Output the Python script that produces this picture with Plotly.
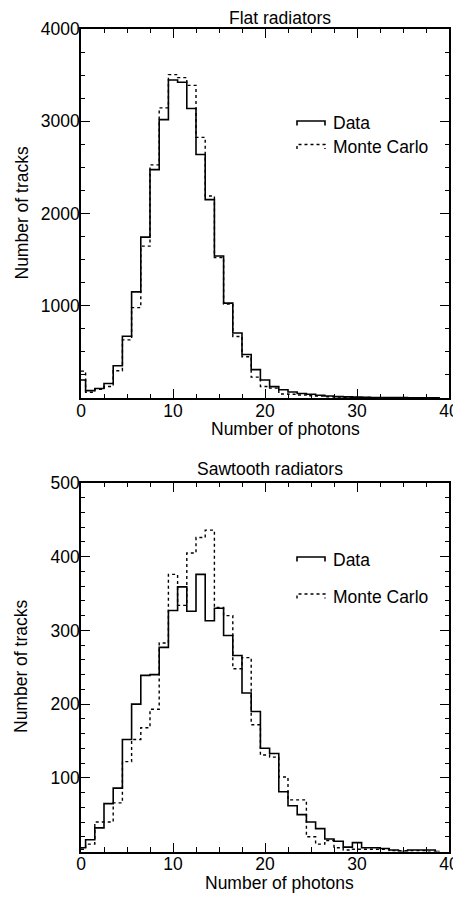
import plotly.graph_objects as go

# ---------------- data ----------------
photons = list(range(40))

flat_data = [195, 80, 103, 157, 350, 670, 1150, 1744, 2476, 3018,
             3447, 3422, 3138, 2640, 2150, 1540, 1028, 705, 472, 308,
             195, 123, 89, 65, 48, 40, 30, 22, 15, 12,
             10, 8, 6, 5, 4, 4, 3, 3, 2, 2]
flat_mc = [291, 62, 93, 125, 296, 630, 980, 1646, 2527, 3145,
           3505, 3473, 3389, 2825, 2190, 1523, 1018, 667, 447, 226,
           125, 107, 44, 40, 33, 25, 22, 14, 10, 8,
           6, 5, 4, 3, 3, 2, 2, 2, 1, 1]

saw_data = [5, 16, 32, 65, 86, 152, 200, 239, 240, 277,
            327, 359, 326, 376, 313, 330, 293, 266, 215, 190,
            140, 133, 81, 62, 50, 40, 31, 17, 14, 6,
            12, 5, 5, 4, 2, 0, 2, 2, 2, 0]
saw_mc = [3, 10, 40, 40, 66, 122, 152, 168, 193, 283,
          376, 334, 405, 426, 436, 331, 320, 248, 263, 172,
          131, 128, 101, 70, 70, 20, 10, 15, 5, 2,
          3, 3, 3, 3, 1, 1, 1, 1, 0, 0]

x_ticks = [0, 10, 20, 30, 40]
flat_yticks = [1000, 2000, 3000, 4000]
saw_yticks = [100, 200, 300, 400, 500]

titles = ["Flat radiators", "Sawtooth radiators"]
xlabel = "Number of photons"
ylabel = "Number of tracks"
legend_names = ["Data", "Monte Carlo"]

# ---------------- layout helpers ----------------
OFF = 8  # page body margin
W, H = 461 - OFF, 897 - OFF
FONT = "Liberation Sans, Arial, Helvetica, sans-serif"
FS = 17.5


def pxx(x):
    return (x - OFF) / W


def pxy(y):
    return 1 - (y - OFF) / H


fig = go.Figure()

# top panel traces
fig.add_trace(go.Scatter(x=photons, y=flat_data, mode="lines", line_shape="hvh",
                         line=dict(color="black", width=1.6), xaxis="x", yaxis="y",
                         showlegend=False, name=legend_names[0]))
fig.add_trace(go.Scatter(x=photons, y=flat_mc, mode="lines", line_shape="hvh",
                         line=dict(color="black", width=1.4, dash="dot"), xaxis="x", yaxis="y",
                         showlegend=False, name=legend_names[1]))
# bottom panel traces
fig.add_trace(go.Scatter(x=photons, y=saw_data, mode="lines", line_shape="hvh",
                         line=dict(color="black", width=1.6), xaxis="x2", yaxis="y2",
                         showlegend=False, name=legend_names[0]))
fig.add_trace(go.Scatter(x=photons, y=saw_mc, mode="lines", line_shape="hvh",
                         line=dict(color="black", width=1.4, dash="dot"), xaxis="x2", yaxis="y2",
                         showlegend=False, name=legend_names[1]))

# plot area pixel boxes (page coordinates)
top_box = (81, 449, 29, 398)
bot_box = (81, 449, 483, 851.5)


def axis_common():
    return dict(showline=True, linecolor="black", linewidth=1.6, mirror="ticks",
                ticks="inside", ticklen=9, tickwidth=1.3, tickcolor="black",
                showgrid=False, zeroline=False, automargin=False,
                tickfont=dict(family=FONT, size=FS, color="black"))


xa = axis_common()
xa.update(domain=[pxx(top_box[0]), pxx(top_box[1])], range=[0, 40],
          tickvals=x_ticks, anchor="y", ticklabelstandoff=-4,
          minor=dict(dtick=2.5, tick0=0, ticklen=4.5, tickwidth=1.2, ticks="inside", tickcolor="black"))
ya = axis_common()
ya.update(domain=[pxy(top_box[3]), pxy(top_box[2])], range=[0, 4000],
          tickvals=flat_yticks, anchor="x", ticklabelstandoff=-4,
          minor=dict(dtick=250, tick0=0, ticklen=4.5, tickwidth=1.2, ticks="inside", tickcolor="black"))
xa2 = axis_common()
xa2.update(domain=[pxx(bot_box[0]), pxx(bot_box[1])], range=[0, 40],
           tickvals=x_ticks, anchor="y2", ticklabelstandoff=-4,
           minor=dict(dtick=2.5, tick0=0, ticklen=4.5, tickwidth=1.2, ticks="inside", tickcolor="black"))
ya2 = axis_common()
ya2.update(domain=[pxy(bot_box[3]), pxy(bot_box[2])], range=[0, 500],
           tickvals=saw_yticks, anchor="x2", ticklabelstandoff=-4,
           minor=dict(dtick=20, tick0=0, ticklen=4.5, tickwidth=1.2, ticks="inside", tickcolor="black"))

annotations = []


def ann(text, x, y, angle=0, xanchor="center"):
    annotations.append(dict(text=text, x=pxx(x), y=pxy(y), xref="paper", yref="paper",
                            showarrow=False, xanchor=xanchor, yanchor="middle", textangle=angle,
                            font=dict(family=FONT, size=FS, color="black")))


ann(titles[0], 279.5, 17.5)
ann(xlabel, 285, 429)
ann(titles[1], 270, 469)
ann(xlabel, 279.5, 883)
ann(ylabel, 21, 213.5, angle=-90)
ann(ylabel, 21, 667, angle=-90)

shapes = []


def legend_entry(box, yrange, y_line_px, name, dash):
    x0p, x1p, y0p, y1p = box
    def dx(x):
        return (x - x0p) / (x1p - x0p) * 40
    def dy(y):
        return yrange * (y1p - y) / (y1p - y0p)
    xr = "x" if box is top_box else "x2"
    yr = "y" if box is top_box else "y2"
    lx0, lx1 = dx(297), dx(325)
    yl = dy(y_line_px)
    yt = dy(y_line_px + 4.5)
    shapes.append(dict(type="path", xref=xr, yref=yr,
                       path=f"M {lx0},{yt} L {lx0},{yl} L {lx1},{yl} L {lx1},{yt}",
                       line=dict(color="black", width=1.6 if dash == "solid" else 1.4, dash=dash)))
    annotations.append(dict(text=name, x=dx(331), y=dy(y_line_px + 2.5), xref=xr, yref=yr,
                            showarrow=False, xanchor="left", yanchor="middle",
                            font=dict(family=FONT, size=FS, color="black")))


legend_entry(top_box, 4000, 121, legend_names[0], "solid")
legend_entry(top_box, 4000, 144.5, legend_names[1], "dot")
legend_entry(bot_box, 500, 557, legend_names[0], "solid")
legend_entry(bot_box, 500, 594, legend_names[1], "dot")

fig.update_layout(width=W, height=H, margin=dict(l=0, r=0, t=0, b=0, autoexpand=False),
                  paper_bgcolor="white", plot_bgcolor="white",
                  xaxis=xa, yaxis=ya, xaxis2=xa2, yaxis2=ya2,
                  annotations=annotations, shapes=shapes, showlegend=False,
                  font=dict(family=FONT, size=FS, color="black"))

fig.write_html("out.html")
